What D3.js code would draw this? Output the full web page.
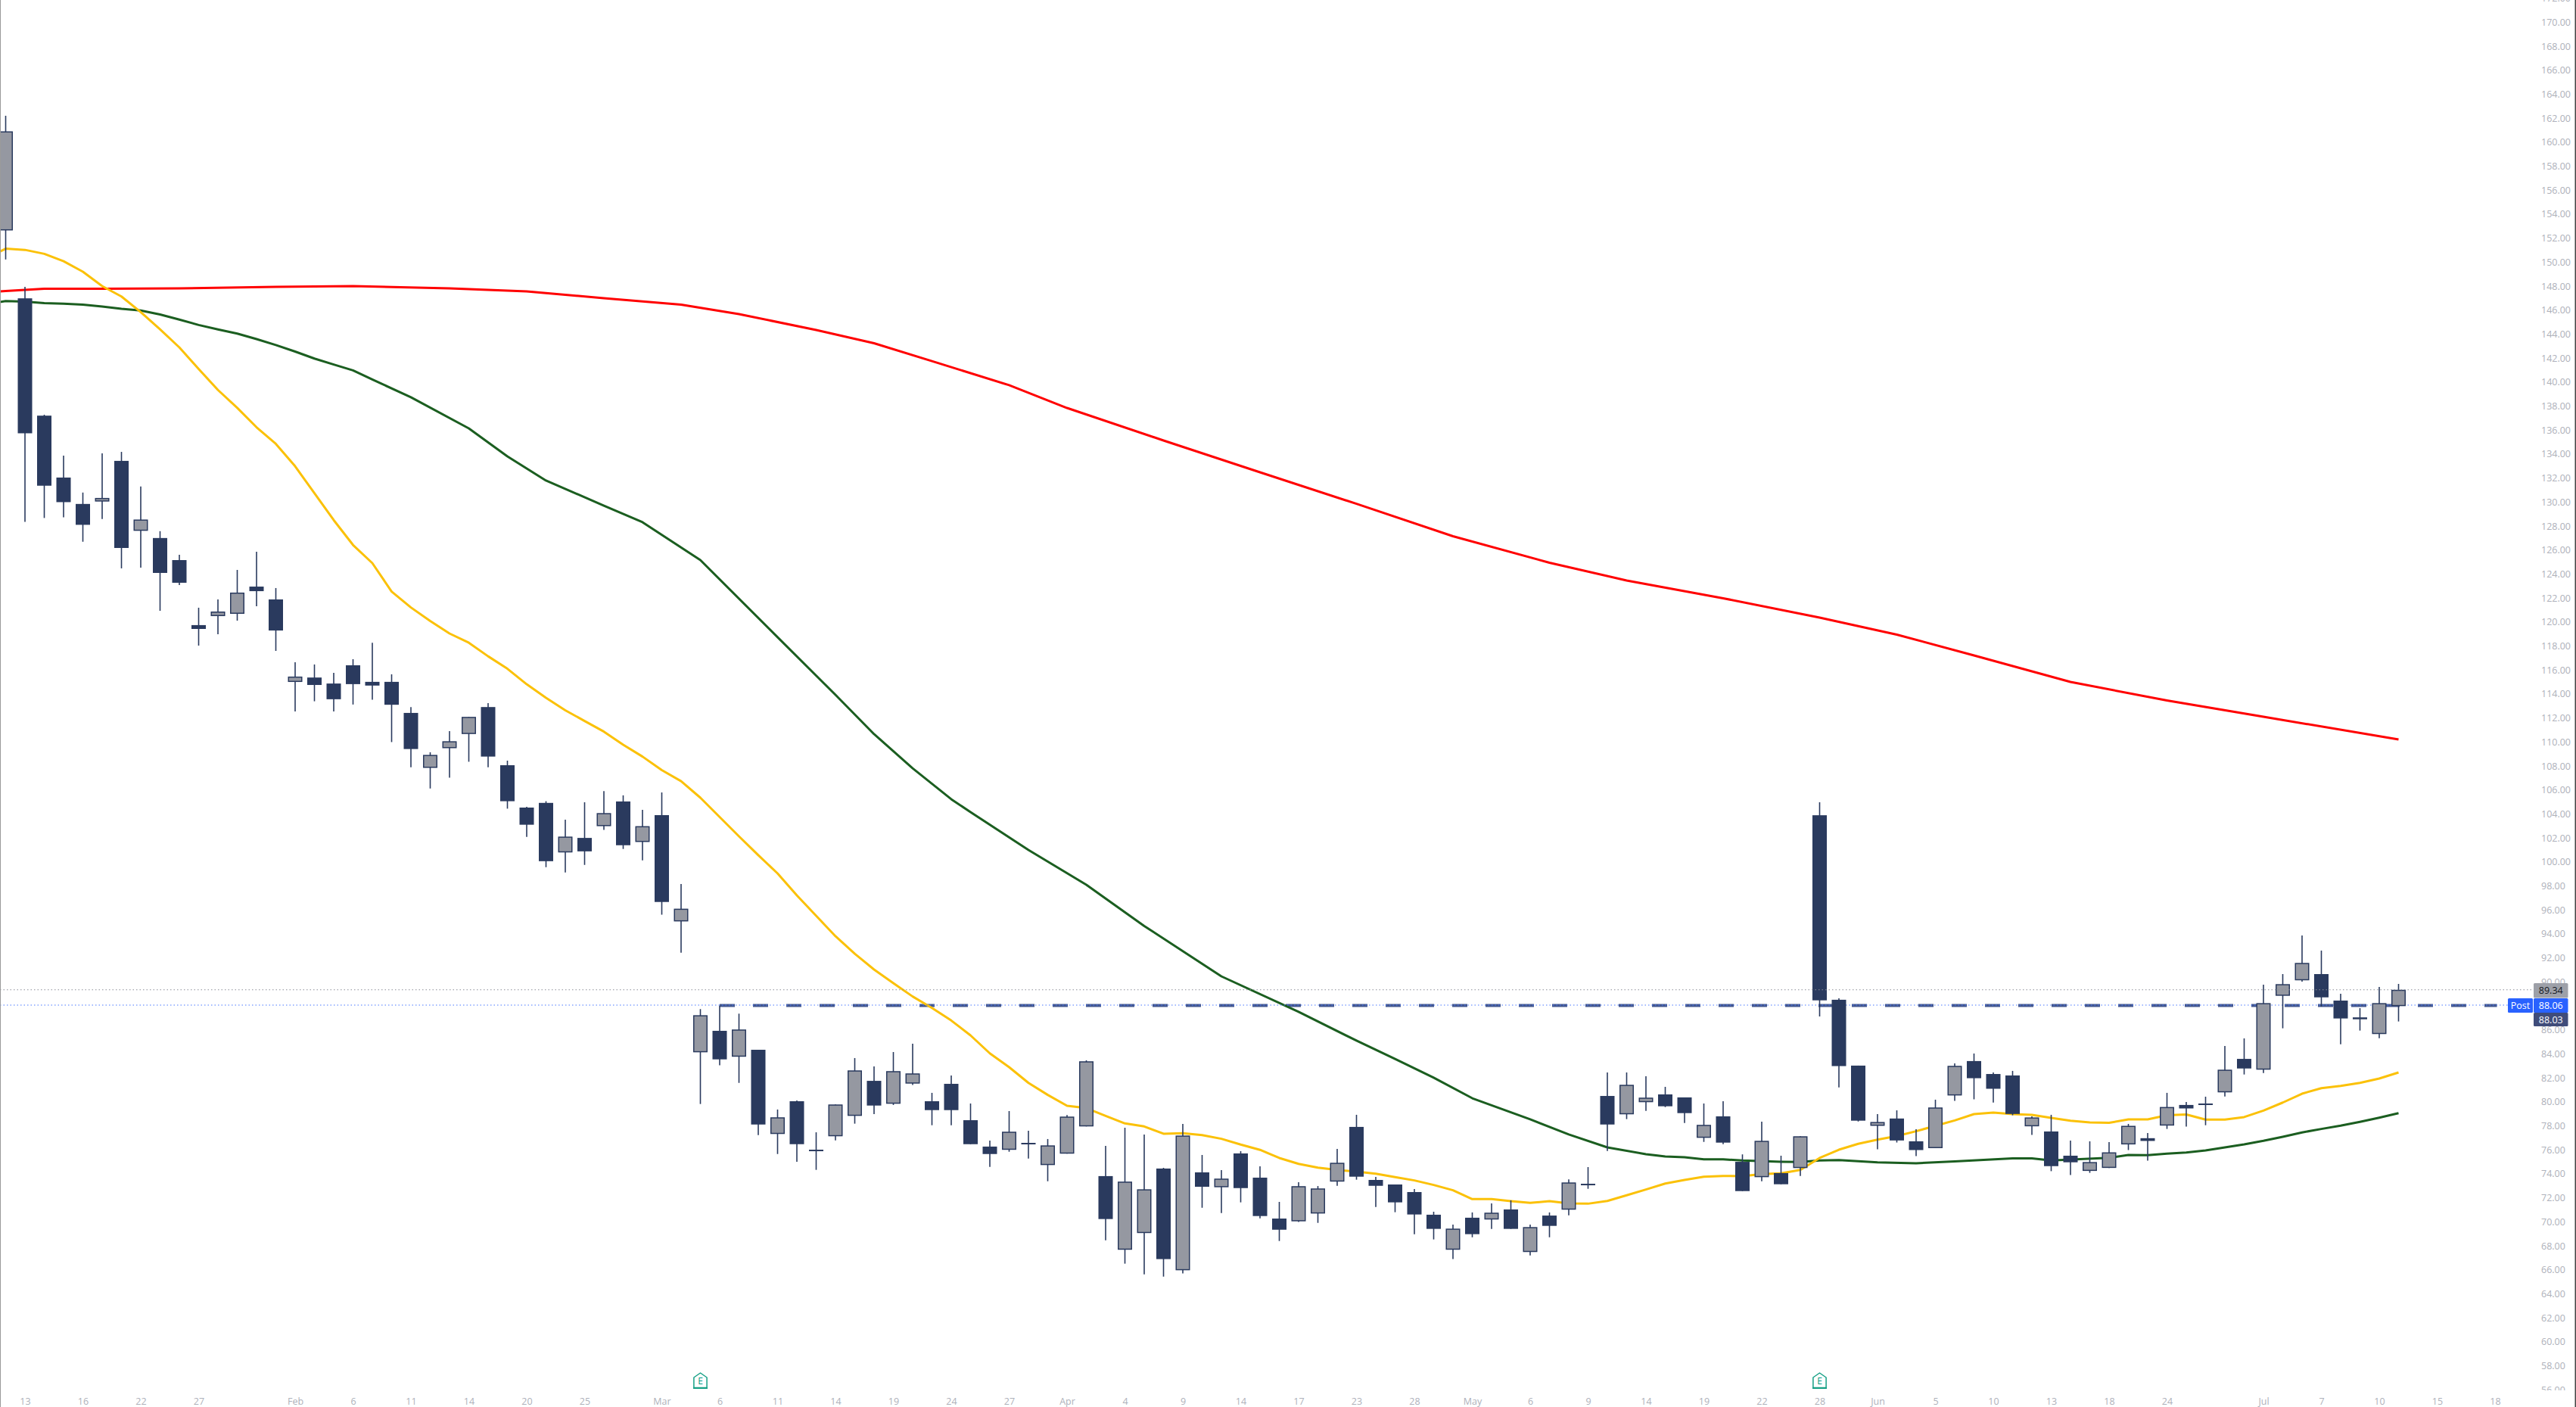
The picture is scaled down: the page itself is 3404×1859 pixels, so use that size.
<!DOCTYPE html>
<html>
<head>
<meta charset="utf-8">
<script src="https://cdn.jsdelivr.net/npm/d3@7/dist/d3.min.js"></script>
<style>
html,body{margin:0;padding:0;background:#fff;overflow:hidden}
svg{display:block}
text{font-family:"Open Sans",Roboto,sans-serif}
</style>
</head>
<body>
<svg id="c" width="3404" height="1859"></svg>
<script>
const opens=[152.64,146.98,137.20,132.04,129.84,130.04,133.43,127.60,127.00,125.16,119.74,120.49,120.68,122.95,121.88,115.00,115.37,114.87,116.39,115.01,115.01,112.42,107.84,109.48,110.66,112.91,108.06,104.53,104.92,100.79,102.00,102.98,105.04,101.66,103.90,95.04,84.13,85.92,83.76,84.34,77.32,80.05,76.01,77.13,78.83,81.75,79.84,81.52,80.05,81.50,78.47,76.27,76.00,76.58,74.73,75.68,77.95,73.81,67.67,69.06,74.44,65.96,74.12,72.88,75.70,73.68,70.27,70.04,70.69,73.35,77.91,73.49,73.11,72.48,70.59,67.67,70.34,70.19,71.03,67.48,70.52,71.01,73.17,80.49,78.96,79.97,80.62,80.37,77.00,78.79,75.00,73.72,74.06,74.48,103.89,88.51,83.02,78.00,78.61,76.71,76.14,80.53,83.40,82.32,82.20,77.96,77.53,75.51,74.24,74.49,76.45,76.97,78.02,79.74,79.86,80.79,83.58,82.68,88.84,90.13,90.65,88.44,86.91,85.65,87.98];
const highs=[162.20,147.93,137.28,133.86,130.79,134.06,134.18,131.29,127.57,125.60,121.19,121.88,124.34,125.86,122.83,116.64,116.46,115.76,116.90,118.27,115.64,112.91,109.14,110.90,112.09,113.24,108.44,104.60,105.06,103.52,104.97,105.91,105.55,104.34,105.79,98.16,87.73,88.02,87.35,84.34,79.36,80.12,77.46,79.78,83.65,82.95,84.15,84.85,80.75,82.20,79.86,76.77,79.23,77.59,76.90,78.90,83.46,76.33,77.84,77.28,74.50,78.16,75.57,74.31,75.89,74.63,71.66,73.30,72.98,76.08,78.92,73.74,73.11,72.73,70.84,69.77,70.78,71.53,71.79,69.77,70.78,73.53,74.56,82.45,82.45,82.13,81.25,80.37,79.86,80.05,75.62,78.35,75.51,77.13,104.97,88.63,83.02,78.98,79.29,77.72,80.18,83.21,84.03,82.45,82.58,78.79,78.92,76.77,76.71,76.65,78.16,77.40,80.75,79.99,80.43,84.66,85.29,89.77,90.65,93.87,92.61,89.01,87.81,89.58,89.83];
const lows=[150.22,128.34,128.67,128.72,126.69,128.59,124.47,124.53,120.93,123.08,118.03,118.98,120.11,121.31,117.59,112.54,113.39,112.54,113.12,113.52,109.99,107.89,106.12,107.02,108.35,107.89,104.44,102.09,99.56,99.12,99.75,102.67,101.08,100.13,95.60,92.44,79.82,83.04,81.58,77.23,75.65,75.00,74.33,76.79,78.18,78.98,79.74,81.40,78.05,78.05,76.47,74.58,75.84,75.27,73.38,75.68,77.95,68.46,66.51,65.62,65.43,65.69,71.17,70.73,71.62,70.29,68.40,69.98,69.91,73.00,73.51,71.24,70.80,68.97,68.53,66.89,68.71,69.41,69.41,67.20,68.71,70.54,72.75,75.91,78.56,79.25,79.56,78.24,76.66,76.47,72.56,73.38,73.13,73.82,87.12,81.20,78.36,76.04,76.61,75.48,76.14,80.08,80.21,79.94,78.88,77.24,74.22,73.90,74.08,74.49,75.98,75.09,77.74,77.93,78.05,80.45,82.28,82.40,86.13,90.02,87.94,84.80,85.94,85.31,86.70];
const closes=[160.90,135.73,131.36,129.99,128.10,130.34,126.17,128.54,124.09,123.27,119.42,120.87,122.45,122.57,119.29,115.45,114.75,113.56,114.82,114.70,113.10,109.41,108.92,110.06,112.09,108.78,105.06,103.10,100.06,102.11,100.88,104.07,101.39,102.98,96.66,96.10,87.22,83.54,86.03,78.11,78.71,76.47,75.91,79.78,82.62,79.69,82.56,82.37,79.31,79.31,76.47,75.65,77.51,76.54,76.37,78.77,83.38,70.23,73.35,72.71,66.89,77.19,72.92,73.60,72.81,70.48,69.34,72.97,72.78,74.92,73.76,73.00,71.62,70.61,69.41,69.43,68.97,70.76,69.41,69.56,69.66,73.28,73.13,78.11,81.42,80.35,79.63,79.06,78.08,76.60,72.56,76.75,73.13,77.13,88.46,82.98,78.43,78.32,76.78,75.98,79.53,83.00,81.97,81.09,78.99,78.70,74.64,74.96,74.98,75.79,78.00,76.74,79.57,79.45,79.82,82.68,82.78,88.23,89.81,91.58,88.71,86.95,87.04,88.23,89.34];

const fastVals=[150.33,151.12,151.02,150.69,150.07,149.20,148.00,147.13,145.83,144.39,142.89,141.09,139.34,137.85,136.23,134.85,132.98,130.74,128.49,126.42,124.91,122.54,121.21,120.08,119.04,118.27,117.14,116.10,114.81,113.68,112.64,111.75,110.86,109.77,108.78,107.65,106.73,105.35,103.74,102.13,100.56,99.04,97.21,95.51,93.81,92.35,91.03,89.89,88.78,87.83,86.78,85.54,84.04,82.89,81.58,80.58,79.67,79.48,78.83,78.20,77.95,77.34,77.38,77.23,76.92,76.44,76.00,75.32,74.83,74.52,74.33,74.18,74.01,73.72,73.45,73.07,72.63,71.89,71.89,71.72,71.58,71.72,71.53,71.51,71.74,72.21,72.69,73.19,73.49,73.76,73.82,73.81,73.98,74.04,74.33,75.32,76.01,76.50,76.85,77.15,77.55,78.00,78.45,78.98,79.10,78.98,78.92,78.66,78.43,78.28,78.25,78.54,78.54,78.88,78.95,78.52,78.52,78.73,79.27,79.94,80.68,81.14,81.33,81.58,81.94,82.45];
const fastStart=-1;

const midIdx=[-1,0,1,2,3,4,5,6,7,8,9,10,11,12,13,14,15,16,17,18,19,21,24,26,28,31,33,36,40,43,45,47,49,50,53,56,59,63,67,70,72,74,76,79,81,83,85,86,87,88,89,90,92,93,94,95,97,99,101,104,105,106,109,110,111,112,113,114,116,117,118,119,120,121,122,123,124];
const midVals=[146.49,146.76,146.71,146.58,146.53,146.46,146.30,146.11,145.96,145.63,145.21,144.76,144.39,144.04,143.58,143.09,142.54,141.96,141.46,140.97,140.22,138.73,136.14,133.80,131.79,129.70,128.32,125.16,118.73,113.93,110.65,107.80,105.23,104.15,101.00,98.10,94.66,90.46,87.50,85.10,83.58,82.01,80.30,78.54,77.28,76.20,75.64,75.45,75.38,75.21,75.21,75.11,75.00,74.98,75.11,75.15,74.96,74.88,75.03,75.29,75.29,75.12,75.34,75.57,75.55,75.68,75.77,75.95,76.45,76.75,77.09,77.45,77.74,78.01,78.33,78.68,79.06];

const slowIdx=[-1,0,2,5,9,14,18,23,27,31,35,38,42,45,48,52,55,60,65,70,75,80,84,89,94,98,102,107,112,117,124];
const slowVals=[147.50,147.59,147.78,147.78,147.81,147.94,148.00,147.81,147.56,146.99,146.45,145.67,144.34,143.24,141.75,139.74,137.84,135.13,132.48,129.85,127.15,124.94,123.46,121.98,120.37,118.95,117.21,115.00,113.46,112.10,110.21];

const yTicks=[172,170,168,166,164,162,160,158,156,154,152,150,148,146,144,142,140,138,136,134,132,130,128,126,124,122,120,118,116,114,112,110,108,106,104,102,100,98,96,94,92,90,88,86,84,82,80,78,76,74,72,70,68,66,64,62,60,58,56];
const xTickIdx=[1,4,7,10,15,18,21,24,27,30,34,37,40,43,46,49,52,55,58,61,64,67,70,73,76,79,82,85,88,91,94,97,100,103,106,109,112,117,120,123,126,129];
const xTickLabels=["13","16","22","27","Feb","6","11","14","20","25","Mar","6","11","14","19","24","27","Apr","4","9","14","17","23","28","May","6","9","14","19","22","28","Jun","5","10","13","18","24","Jul","7","10","15","18"];
const monthLabels=["Feb","Mar","Apr","May","Jun","Jul"];
const earningsIdx=[36,94];
const lastClose=89.34, postPrice=88.06, bidPrice=88.03;

const NAVY="#2a3a5e", GRAY="#9598a1", TICK="#aeb1ba";
const svg=d3.select("#c");
const x=d3.scaleLinear().domain([0,124]).range([7.5,3169.5]);
const y=d3.scaleLinear().domain([170,62]).range([29.3,1741.1]);

svg.append("defs").append("clipPath").attr("id","yclip").append("rect")
  .attr("x",3300).attr("y",0).attr("width",104).attr("height",1837);
svg.append("defs").append("clipPath").attr("id","plot").append("rect")
  .attr("x",0).attr("y",0).attr("width",3404).attr("height",1859);

// axes
const gy=svg.append("g").attr("clip-path","url(#yclip)").append("g").attr("transform","translate(3358,0)")
  .call(d3.axisRight(y).tickValues(yTicks).tickSize(0).tickPadding(0).tickFormat(d3.format(".2f")));
gy.select(".domain").remove();
gy.selectAll("text").attr("font-size",12.5).attr("fill",TICK).attr("font-family",'"Open Sans",sans-serif');

const gx=svg.append("g").attr("transform","translate(0,1847)")
  .call(d3.axisBottom(x).tickValues(xTickIdx).tickSize(0).tickPadding(0).tickFormat((d,i)=>xTickLabels[i]));
gx.select(".domain").remove();
gx.selectAll("text").attr("font-size",12.5).attr("font-family",'"Open Sans",sans-serif')
  .attr("fill",TICK);

// dashed session level
const dashStart=37, dashEnd=129.1;
svg.append("line").attr("x1",x(dashStart)).attr("x2",x(dashEnd)).attr("y1",y(bidPrice)).attr("y2",y(bidPrice))
  .attr("stroke","#44588f").attr("stroke-width",4).attr("stroke-dasharray","20 24");

// moving averages
const line=d3.line().x(d=>x(d[0])).y(d=>y(d[1]));
const fastPts=fastVals.map((v,i)=>[fastStart+i,v]);
const midPts=midVals.map((v,i)=>[midIdx[i],v]);
const slowPts=slowVals.map((v,i)=>[slowIdx[i],v]);
[[slowPts,"#ff0000"],[midPts,"#1b5e20"],[fastPts,"#fbc108"]].forEach(([p,c])=>{
  svg.append("path").attr("d",line(p)).attr("fill","none").attr("stroke",c)
    .attr("stroke-width",3).attr("stroke-linejoin","round");
});

// blue post level below the candles
svg.append("line").attr("x1",0).attr("x2",3314).attr("y1",y(postPrice)).attr("y2",y(postPrice))
  .attr("stroke","#4a78ff").attr("stroke-width",1.1).attr("stroke-dasharray","1.5 3");

// candles
const idx=d3.range(opens.length);
const BW=19, SW=1.5;
const cg=svg.append("g").attr("clip-path","url(#plot)");
cg.selectAll("line.w").data(idx).join("line").attr("class","w")
  .attr("x1",i=>x(i)).attr("x2",i=>x(i)).attr("y1",i=>y(highs[i])).attr("y2",i=>y(lows[i]))
  .attr("stroke",NAVY).attr("stroke-width",1.6);
cg.selectAll("rect.b").data(idx).join("rect").attr("class","b")
  .attr("x",i=>closes[i]>opens[i]?x(i)-BW/2+SW/2:x(i)-BW/2)
  .attr("width",i=>closes[i]>opens[i]?BW-SW:BW)
  .attr("y",i=>{const t=y(Math.max(opens[i],closes[i]));return closes[i]>opens[i]?t+SW/2:t;})
  .attr("height",i=>{
    const h=Math.abs(y(opens[i])-y(closes[i]));
    return closes[i]>opens[i]?Math.max(h-SW,1):Math.max(h,2);
  })
  .attr("fill",i=>closes[i]>opens[i]?GRAY:NAVY)
  .attr("stroke",i=>closes[i]>opens[i]?NAVY:"none")
  .attr("stroke-width",SW);

// last price dotted line
svg.append("line").attr("x1",0).attr("x2",3348).attr("y1",y(lastClose)).attr("y2",y(lastClose))
  .attr("stroke","#8a8d96").attr("stroke-width",1.1).attr("stroke-dasharray","1.5 3");

// earnings markers
const markerTop=1813, markerBot=1835;
earningsIdx.forEach(i=>{
  const g=svg.append("g").attr("transform",`translate(${x(i)},0)`);
  g.append("path").attr("d",`M0,${markerTop+1} L8.6,${markerTop+7} L8.6,${markerBot-1.5} L-8.6,${markerBot-1.5} L-8.6,${markerTop+7} Z`)
    .attr("fill","#fff").attr("stroke","#16a085").attr("stroke-width",1.5).attr("stroke-linejoin","round");
  g.append("rect").attr("x",-9.5).attr("y",markerBot-2).attr("width",19).attr("height",2).attr("fill","#16a085");
  g.append("text").attr("text-anchor","middle").attr("y",markerBot-6.5).attr("font-size",12).attr("fill","#089981").text("E");
});

// price labels
const tags=[
  {x:3348,w:45.5,y0:1299,y1:1318.5,fill:"#9da0a8",txt:d3.format(".2f")(lastClose),col:"#131722"},
  {x:3348,w:45.5,y0:1319,y1:1338,fill:"#2962ff",txt:d3.format(".2f")(postPrice),col:"#fff"},
  {x:3348,w:45.5,y0:1338,y1:1356,fill:"#3f4c7a",txt:d3.format(".2f")(bidPrice),col:"#fff"},
  {x:3314,w:33,y0:1319,y1:1338,fill:"#2962ff",txt:"Post",col:"#fff"}
];
tags.forEach(t=>{
  svg.append("rect").attr("x",t.x).attr("y",t.y0).attr("width",t.w).attr("height",t.y1-t.y0).attr("rx",1.5).attr("fill",t.fill);
  svg.append("text").attr("x",t.x+t.w/2).attr("y",(t.y0+t.y1)/2).attr("dy",".36em").attr("text-anchor","middle")
    .attr("font-size",12.5).attr("fill",t.col).text(t.txt);
});

// frame
svg.append("rect").attr("x",0).attr("y",0).attr("width",1).attr("height",1859).attr("fill","#9a9a9a");
svg.append("rect").attr("x",3402.5).attr("y",0).attr("width",1.5).attr("height",1859).attr("fill","#444");
</script>
</body>
</html>
